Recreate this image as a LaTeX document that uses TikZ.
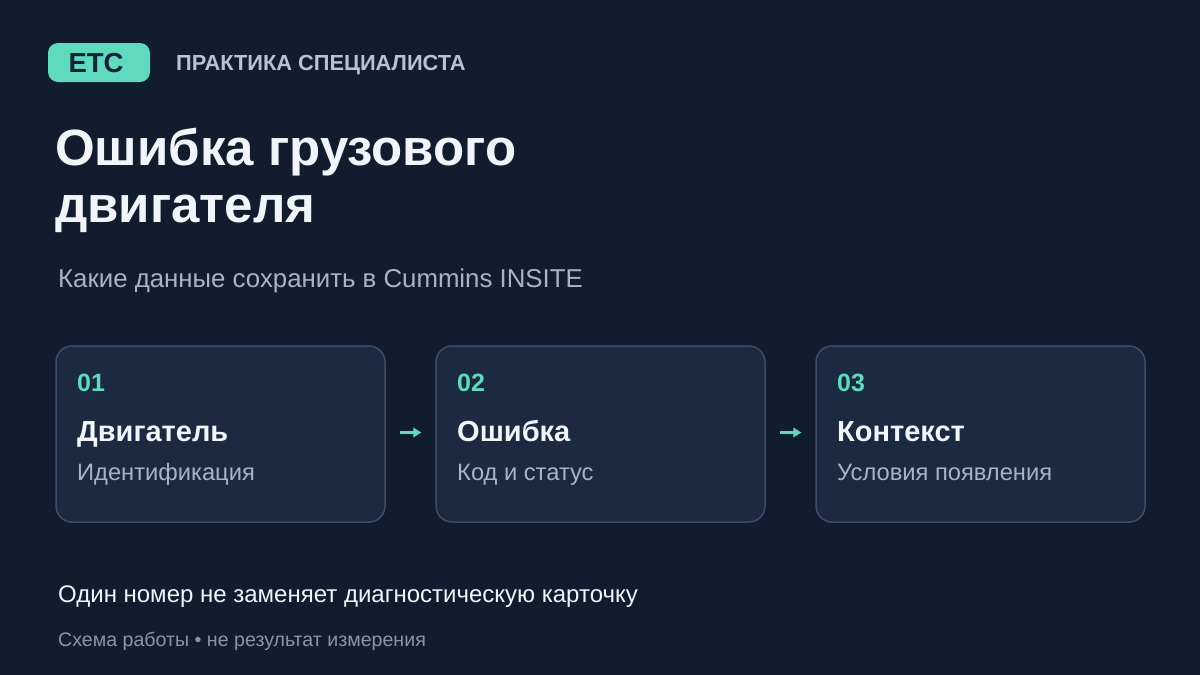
\documentclass[tikz,border=0pt]{standalone}
\usepackage{fontspec}
\setmainfont{Liberation Sans}
\usetikzlibrary{arrows.meta}
\definecolor{bg}{HTML}{111C2E}
\definecolor{cardfill}{HTML}{1B2A41}
\definecolor{cardline}{HTML}{3B4E68}
\definecolor{mint}{HTML}{5FDABD}
\definecolor{badgetext}{HTML}{10213A}
\definecolor{titlec}{HTML}{F1F5FA}
\definecolor{subc}{HTML}{A7B4C8}
\definecolor{headc}{HTML}{B7C3D4}
\definecolor{foot}{HTML}{8996AA}
\tikzset{
  card/.style={draw=cardline, line width=1.5pt, fill=cardfill, rounded corners=16pt,
    minimum width=329pt, minimum height=176pt, inner sep=0pt},
  num/.style={anchor=base west, inner sep=0pt, text=mint, font=\bfseries\fontsize{25}{28}\selectfont},
  ctitle/.style={anchor=base west, inner sep=0pt, text=titlec, font=\bfseries\fontsize{29}{32}\selectfont},
  csub/.style={anchor=base west, inner sep=0pt, text=subc, font=\fontsize{23.7}{26}\selectfont},
  flow/.style={draw=mint, line width=2.5pt, -{Triangle[length=8pt,width=9.5pt]}},
  txt/.style={anchor=base west, inner sep=0pt}
}
\begin{document}
\begin{tikzpicture}[x=1pt,y=-1pt]
\fill[bg] (0,0) rectangle (1200,675);
\useasboundingbox (0,0) rectangle (1200,675);
% badge
\node[fill=mint, rounded corners=10pt, minimum width=102pt, minimum height=39pt, inner sep=0pt] (badge) at (99,62.5) {};
\node[text=badgetext, font=\bfseries\fontsize{27.5}{30}\selectfont, inner sep=0pt, anchor=base] (badgetxt) at (96,72) {ETC};
\node[txt, text=headc, font=\bfseries\fontsize{21.8}{24}\selectfont] (head) at (176,70) {ПРАКТИКА СПЕЦИАЛИСТА};
% title
\node[txt, text=titlec, font=\bfseries\fontsize{51}{57}\selectfont] (title1) at (55,165) {Ошибка грузового};
\node[txt, text=titlec, font=\bfseries\fontsize{51}{57}\selectfont] (title2) at (55,222) {двигателя};
\node[txt, text=subc, font=\fontsize{25.8}{28}\selectfont] (subtitle) at (58,287) {Какие данные сохранить в Cummins INSITE};
% cards
\node[card] (c1) at (220.5,434) {};
\node[card] (c2) at (600.5,434) {};
\node[card] (c3) at (980.5,434) {};
\node[num] (n1) at (77,391) {01};
\node[ctitle] (t1) at (77,441) {Двигатель};
\node[csub] (s1) at (77,480) {Идентификация};
\node[num] (n2) at (457,391) {02};
\node[ctitle] (t2) at (457,441) {Ошибка};
\node[csub] (s2) at (457,480) {Код и статус};
\node[num] (n3) at (837,391) {03};
\node[ctitle] (t3) at (837,441) {Контекст};
\node[csub] (s3) at (837,480) {Условия появления};
\draw[flow] ([xshift=14pt,yshift=1.5pt]c1.east) -- ([xshift=-14pt,yshift=1.5pt]c2.west);
\draw[flow] ([xshift=14pt,yshift=1.5pt]c2.east) -- ([xshift=-14pt,yshift=1.5pt]c3.west);
% footer
\node[txt, text=titlec, font=\fontsize{24}{28}\selectfont] (note) at (58,602) {Один номер не заменяет диагностическую карточку};
\node[txt, text=foot, font=\fontsize{19.6}{22}\selectfont] (src) at (58,646) {Схема работы • не результат измерения};
\end{tikzpicture}
\end{document}
